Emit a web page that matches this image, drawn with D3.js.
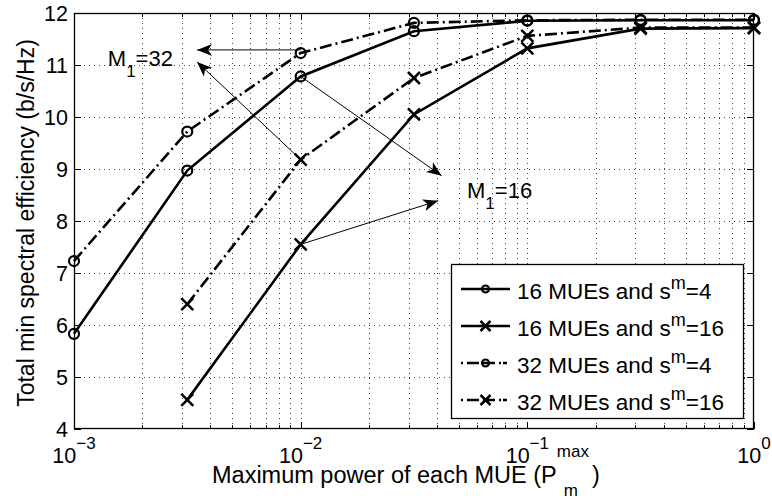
<!DOCTYPE html>
<html><head><meta charset="utf-8">
<script src="https://cdn.jsdelivr.net/npm/d3@7"></script>
<style>body{margin:0;background:#fff}svg{display:block;font-family:"Liberation Sans",Arial,Helvetica,sans-serif}</style>
</head><body><svg id="c" width="772" height="499"></svg>
<script>
const powers = [1e-3, 0.00316, 1e-2, 0.0316, 1e-1, 0.316, 1];
const s16_4  = [5.83, 8.97, 10.78, 11.65, 11.85, 11.86, 11.86];
const s16_16 = [null, 4.56, 7.55, 10.05, 11.32, 11.70, 11.71];
const s32_4  = [7.23, 9.72, 11.23, 11.81, 11.86, 11.87, 11.87];
const s32_16 = [null, 6.40, 9.18, 10.75, 11.56, 11.72, 11.72];
const seriesNames = ["16 MUEs and s|m|=4", "16 MUEs and s|m|=16", "32 MUEs and s|m|=4", "32 MUEs and s|m|=16"];
const yTicks = [4,5,6,7,8,9,10,11,12];
const xTicks = [1e-3, 1e-2, 1e-1, 1];
const xTickExp = ["\u22123", "\u22122", "\u22121", "0"];

const W=772,H=499, L=74, T=13, R=754, B=429;
const svg=d3.select("#c");
const x=d3.scaleLog().domain([1e-3,1]).range([L,R]);
const y=d3.scaleLinear().domain([4,12]).range([B,T]);
const FS=22.5, TS=21.5, SS=17;

// grid
const g=svg.append("g");
const minor=[];
for(let e=-3;e<0;e++) for(let k=1;k<=9;k++) minor.push(k*Math.pow(10,e));
minor.push(1);
g.selectAll("line.gx").data(minor.filter(v=>v>1e-3&&v<1)).join("line")
 .attr("x1",d=>Math.round(x(d))+0.5).attr("x2",d=>Math.round(x(d))+0.5).attr("y1",T).attr("y2",B)
 .attr("stroke","#444").attr("stroke-width",1).attr("stroke-dasharray","1,4");
g.selectAll("line.gy").data(yTicks.filter(v=>v>4&&v<12)).join("line")
 .attr("x1",L).attr("x2",R).attr("y1",d=>Math.round(y(d))+0.5).attr("y2",d=>Math.round(y(d))+0.5)
 .attr("stroke","#444").attr("stroke-width",1).attr("stroke-dasharray","1,4");

// axes with inward ticks on four sides
function tickLines(vals,len,horizontal){
  vals.forEach(v=>{
    if(horizontal){
      const px=Math.round(x(v))+0.5;
      svg.append("line").attr("x1",px).attr("x2",px).attr("y1",B).attr("y2",B-len).attr("stroke","#000");
      svg.append("line").attr("x1",px).attr("x2",px).attr("y1",T).attr("y2",T+len).attr("stroke","#000");
    } else {
      const py=Math.round(y(v))+0.5;
      svg.append("line").attr("x1",L).attr("x2",L+len).attr("y1",py).attr("y2",py).attr("stroke","#000");
      svg.append("line").attr("x1",R).attr("x2",R-len).attr("y1",py).attr("y2",py).attr("stroke","#000");
    }
  });
}
tickLines(minor.filter(v=>!xTicks.includes(v)),4,true);
tickLines(xTicks,7,true);
tickLines(yTicks,7,false);
svg.append("rect").attr("x",L+0.5).attr("y",T+0.5).attr("width",R-L-1).attr("height",B-T-1)
 .attr("fill","none").attr("stroke","#000").attr("stroke-width",1.3);

// tick labels
yTicks.forEach(v=>{
  svg.append("text").attr("x",L-6).attr("y",y(v)+7.5).attr("text-anchor","end").attr("font-size",TS).text(v);
});
xTicks.forEach((v,i)=>{
  const t=svg.append("text").attr("x",x(v)).attr("y",B+34).attr("text-anchor","middle").attr("font-size",TS);
  t.append("tspan").text("10");
  t.append("tspan").attr("dy",-14).attr("font-size",SS).text(xTickExp[i]);
});

// axis labels (pieces placed side by side)
const xb=B+54, x0=212;
const xm=svg.append("text").attr("x",x0).attr("y",xb).attr("font-size",23.5).text("Maximum power of each MUE (P");
const wMain=xm.node().getComputedTextLength();
const xs=svg.append("text").attr("x",x0+wMain).attr("y",xb-26).attr("font-size",SS).text("max");
const wSup=xs.node().getComputedTextLength();
svg.append("text").attr("x",x0+wMain+7).attr("y",xb+13).attr("font-size",SS).text("m");
svg.append("text").attr("x",x0+wMain+wSup+3).attr("y",xb).attr("font-size",23.5).text(")");
svg.append("text").attr("transform",`translate(34,${(T+B)/2+2}) rotate(-90)`).attr("text-anchor","middle")
 .attr("font-size",23).text("Total min spectral efficiency (b/s/Hz)");

// series
const series=[
 {v:s16_4,dash:null,m:"o"},
 {v:s16_16,dash:null,m:"x"},
 {v:s32_4,dash:"12,4,2,4",m:"o"},
 {v:s32_16,dash:"12,4,2,4",m:"x"}];
const line=d3.line().defined(d=>d[1]!=null).x(d=>x(d[0])).y(d=>y(d[1]));
function marker(sel,type,cx,cy,r){
  if(type==="o") sel.append("circle").attr("cx",cx).attr("cy",cy).attr("r",r).attr("fill","none").attr("stroke","#000").attr("stroke-width",2.2);
  else sel.append("path").attr("d",`M${cx-r},${cy-r}L${cx+r},${cy+r}M${cx-r},${cy+r}L${cx+r},${cy-r}`).attr("stroke","#000").attr("stroke-width",2.5);
}
series.forEach(s=>{
  const pts=powers.map((p,i)=>[p,s.v[i]]);
  svg.append("path").attr("d",line(pts)).attr("fill","none").attr("stroke","#000").attr("stroke-width",2.6)
   .attr("stroke-dasharray",s.dash);
  pts.filter(d=>d[1]!=null).forEach(d=>marker(svg,s.m,x(d[0]),y(d[1]),s.m==="o"?5:6));
});

// annotations (data coords)
const arrows=[
 [[1e-2,11.29],[0.00349,11.29]],
 [[1e-2,9.18],[0.00349,11.06]],
 [[1e-2,10.78],[0.0419,8.87]],
 [[1e-2,7.55],[0.0404,8.39]]];
arrows.forEach(a=>{
  const x1=x(a[0][0]),y1=y(a[0][1]),x2=x(a[1][0]),y2=y(a[1][1]);
  svg.append("line").attr("x1",x1).attr("y1",y1).attr("x2",x2).attr("y2",y2).attr("stroke","#000").attr("stroke-width",1);
  const ang=Math.atan2(y2-y1,x2-x1)*180/Math.PI;
  svg.append("path").attr("d","M0,0L-15,-6L-11,0L-15,6Z").attr("fill","#000")
   .attr("transform",`translate(${x2},${y2}) rotate(${ang})`);
});
function mlabel(px,py,num){
  const t=svg.append("text").attr("x",x(px)).attr("y",y(py)).attr("font-size",22);
  t.append("tspan").text("M");
  t.append("tspan").attr("dy",11).attr("font-size",SS).text("1");
  t.append("tspan").attr("dy",-11).text("="+num);
}
mlabel(0.00141,10.98,"32");
mlabel(0.0542,8.45,"16");

// legend
const lx=451,ly=264,lw=292,lh=154;
svg.append("rect").attr("x",lx+0.5).attr("y",ly+0.5).attr("width",lw).attr("height",lh).attr("fill","#fff").attr("stroke","#000").attr("stroke-width",1.3);
const rowY=[289,326,363,400];
series.forEach((s,i)=>{
  const yy=rowY[i];
  svg.append("line").attr("x1",461).attr("x2",510).attr("y1",yy).attr("y2",yy).attr("stroke","#000").attr("stroke-width",2.6)
   .attr("stroke-dasharray",s.dash?"2,4,12,4,12,4,2":null);
  marker(svg,s.m,485.5,yy,s.m==="o"?3.5:5);
  const parts=seriesNames[i].split("|");
  const t=svg.append("text").attr("x",517).attr("y",yy+9.5).attr("font-size",FS);
  t.append("tspan").text(parts[0]);
  t.append("tspan").attr("dy",-10).attr("font-size",18).text(parts[1]);
  t.append("tspan").attr("dy",10).text(parts[2]);
});
</script></body></html>
